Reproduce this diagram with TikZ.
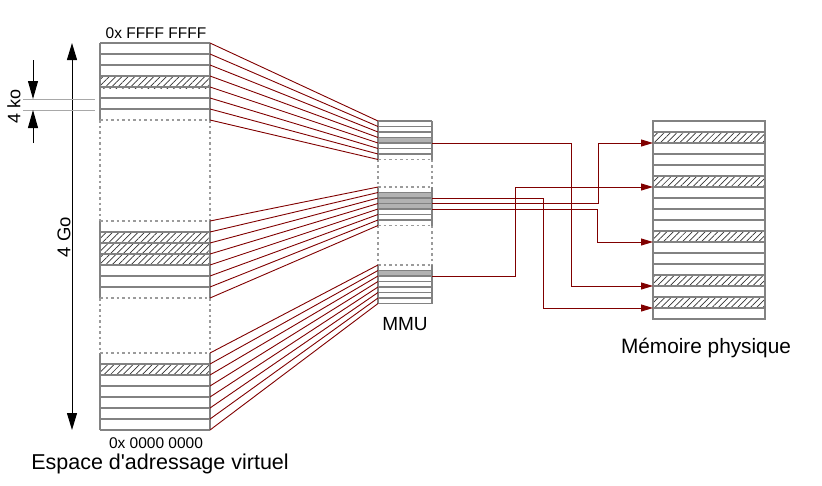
\documentclass[tikz,border=0pt]{standalone}
\usepackage{fontspec}
\setmainfont{Liberation Sans}[Ligatures=TeXOff]
\usetikzlibrary{arrows.meta,patterns.meta}
\definecolor{rougefonce}{RGB}{128,0,0}
\definecolor{grisbord}{RGB}{130,130,130}
\begin{document}
\begin{tikzpicture}[x=1pt, y=-1pt,
    bord/.style={draw=grisbord, line width=1.3pt},
    pointille/.style={draw=grisbord!80, line width=1.1pt, dash pattern=on 2.5pt off 3pt},
    hachure/.style={pattern={Lines[angle=45, distance=4.5pt, line width=0.7pt]}, pattern color=black!80},
    lien/.style={draw=rougefonce, line width=0.9pt},
    fleche/.style={lien, -{Triangle[length=12pt, width=7pt]}},
    cote/.style={-{Triangle[length=18pt, width=10pt]}, line width=1pt},
    texte/.style={font=\fontsize{#1}{#1}\selectfont, inner sep=0pt}]
    \useasboundingbox (0,0) rectangle (822,485);

    % espace virtuel : trois blocs de 7 pages (11 pt)
    \foreach \h in {77}       {\fill[hachure] (100,\h) rectangle (210,\h+11);}
    \foreach \h in {232,243,254} {\fill[hachure] (100,\h) rectangle (210,\h+11);}
    \foreach \h in {364}      {\fill[hachure] (100,\h) rectangle (210,\h+11);}
    \foreach \t in {43,221,353} {
        \draw[bord] (100,\t) -- (100,\t+77) (210,\t) -- (210,\t+77);
        \foreach \k in {1,...,6} \draw[bord] (100,\t+11*\k) -- (210,\t+11*\k);
    }
    \draw[bord] (100,43) -- (210,43) (100,430) -- (210,430);
    \draw[pointille] (100,120) -- (210,120) (100,221) -- (210,221)
                     (100,298) -- (210,298) (100,353) -- (210,353);
    \draw[pointille] (100,120) -- (100,221) (210,120) -- (210,221)
                     (100,298) -- (100,353) (210,298) -- (210,353);

    % MMU : trois blocs de 7 pages (5.5 pt)
    \foreach \h in {137.5,192.5,198,203.5,270.5}
        {\fill[black!30] (378,\h) rectangle (432,\h+5.5);}
    \foreach \t in {121,187,265} {
        \draw[bord] (378,\t) -- (378,\t+38.5) (432,\t) -- (432,\t+38.5);
        \foreach \k in {1,...,6} \draw[bord] (378,\t+5.5*\k) -- (432,\t+5.5*\k);
    }
    \draw[bord] (378,121) -- (432,121) (378,303.5) -- (432,303.5);
    \draw[pointille] (378,159.5) -- (432,159.5) (378,187) -- (432,187)
                     (378,225.5) -- (432,225.5) (378,265) -- (432,265);
    \draw[pointille] (378,159.5) -- (378,187) (432,159.5) -- (432,187)
                     (378,225.5) -- (378,265) (432,225.5) -- (432,265);

    % liens espace virtuel -> MMU
    \foreach \v/\m in {43/121, 221/187, 353/265}
        \foreach \k in {0,...,7}
            \draw[lien] (210,\v+11*\k) -- (378,\m+5.5*\k);

    % memoire physique : 18 pages
    \foreach \i in {1,5,10,14,16}
        {\fill[hachure] (653,121+11*\i) rectangle (765,132+11*\i);}
    \draw[bord] (653,121) rectangle (765,319);
    \foreach \i in {1,...,17} \draw[bord] (653,121+11*\i) -- (765,121+11*\i);

    % sorties MMU et pages physiques
    \coordinate (m1) at (432,143);
    \coordinate (m2) at (432,198);
    \coordinate (m3) at (432,203.5);
    \coordinate (m4) at (432,209);
    \coordinate (m5) at (432,276);
    \coordinate (p1) at (653,143);
    \coordinate (p5) at (653,187);
    \coordinate (p10) at (653,242);
    \coordinate (p14) at (653,286);
    \coordinate (p16) at (653,308);

    \draw[fleche] (m1) -- (571,143) |- (p14);
    \draw[fleche] (m2) -- (543,198) |- (p16);
    \draw[fleche] (m3) -- (598,203.5) |- (p1);
    \draw[fleche] (m4) -- (597,209) |- (p10);
    \draw[fleche] (m5) -- (515,276) |- (p5);

    % cotes
    \draw[cote, {Triangle[length=17pt, width=10pt]}-{Triangle[length=17pt, width=10pt]}]
        (72,43) -- (72,430);
    \node[texte=18.5, rotate=90] (go) at (64,237) {4 Go};
    \draw[grisbord!70, line width=1pt] (23,99) -- (95,99) (23,110) -- (95,110);
    \coordinate (kohaut) at (33,99);
    \coordinate (kobas) at (33,110);
    \draw[cote] (33,60) -- (kohaut);
    \draw[cote] (33,143) -- (kobas);
    \node[texte=18, rotate=90] (ko) at (14,106) {4 ko};

    % textes
    \node[texte=15.5] (vhaut) at (156,33) {0x FFFF FFFF};
    \node[texte=15.5] (vbas) at (156,443) {0x 0000 0000};
    \node[texte=21.5] (virtuel) at (160,464) {Espace d'adressage virtuel};
    \node[texte=19] (mmu) at (405,324) {MMU};
    \node[texte=20.8] (physique) at (706,348) {Mémoire physique};
\end{tikzpicture}
\end{document}
